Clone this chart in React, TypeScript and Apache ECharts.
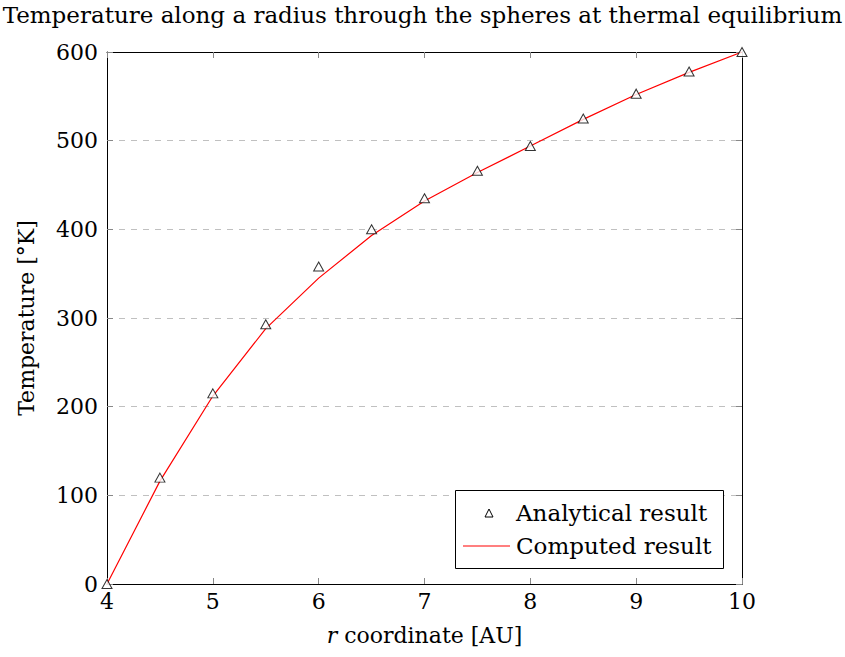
import React, { useEffect, useRef } from "react";
import * as echarts from "echarts";

const titleText = "Temperature along a radius through the spheres at thermal equilibrium";
const xTicks = [4, 5, 6, 7, 8, 9, 10];
const analyticalR = [4, 4.5, 5, 5.5, 6, 6.5, 7, 7.5, 8, 8.5, 9, 9.5, 10];
const analyticalT = [0, 120, 215, 293, 358, 400, 435, 466, 494, 525, 553, 578, 600];
const computedR = [4, 4.5, 5, 5.5, 6, 6.5, 7, 7.5, 8, 8.5, 9, 9.5, 10];
const computedT = [0, 116, 212, 288, 345, 393, 432, 464, 494, 524, 552, 577, 600];
const legendNames = ["Analytical result", "Computed result"];

const FONT = "DejaVu Serif";
const FS = 22;
const FS_TITLE = 23;
const FS_LEGEND = 23;

export default function App() {
  const ref = useRef<HTMLDivElement>(null);
  useEffect(() => {
    if (!ref.current) return;
    const chart = echarts.init(ref.current, null, { renderer: "svg" });
    const tickStyle = { show: true, inside: true, length: 6, lineStyle: { color: "#888", width: 1 } };
    chart.setOption({
      animation: false,
      backgroundColor: "#fff",
      textStyle: { fontFamily: FONT, color: "#000" },
      title: {
        text: titleText,
        left: "center",
        top: -2,
        textStyle: { fontFamily: FONT, fontSize: FS_TITLE, fontWeight: "normal", color: "#000" },
      },
      grid: { left: 107, right: 103, top: 52, bottom: 73, containLabel: false },
      graphic: [
        {
          type: "rect",
          shape: { x: 455.5, y: 490.5, width: 268, height: 78 },
          style: { fill: "#fff", stroke: "#000", lineWidth: 1 },
          z: 100,
        },
        {
          type: "polygon",
          shape: { points: [[489, 509], [485, 517], [493, 517]] },
          style: { fill: "#fff", stroke: "#000", lineWidth: 1 },
          z: 101,
        },
        {
          type: "line",
          shape: { x1: 463, y1: 546, x2: 510, y2: 546 },
          style: { stroke: "#ff0000", lineWidth: 1.2 },
          z: 101,
        },
        {
          type: "text",
          x: 516,
          y: 513,
          style: { text: legendNames[0], fontFamily: FONT, fontSize: FS_LEGEND, fill: "#000", textVerticalAlign: "middle", textAlign: "left" },
          z: 101,
        },
        {
          type: "text",
          x: 516,
          y: 546,
          style: { text: legendNames[1], fontFamily: FONT, fontSize: FS_LEGEND, fill: "#000", textVerticalAlign: "middle", textAlign: "left" },
          z: 101,
        },
      ],
      xAxis: [
        {
          type: "value",
          min: 4,
          max: 10,
          interval: 1,
          name: "{i|r} coordinate [AU]",
          nameLocation: "middle",
          nameGap: 40,
          nameTextStyle: {
            fontFamily: FONT,
            fontSize: FS,
            color: "#000",
            rich: { i: { fontFamily: FONT, fontSize: FS, fontStyle: "italic", color: "#000" } },
          },
          axisLine: { show: true, onZero: false, lineStyle: { color: "#000", width: 1 } },
          axisTick: tickStyle,
          axisLabel: { fontFamily: FONT, fontSize: FS, color: "#000", margin: 6 },
          splitLine: { show: false },
        },
        {
          type: "value",
          position: "top",
          min: 4,
          max: 10,
          interval: 1,
          axisLine: { show: true, onZero: false, lineStyle: { color: "#000", width: 1 } },
          axisTick: tickStyle,
          axisLabel: { show: false },
          splitLine: { show: false },
        },
      ],
      yAxis: [
        {
          type: "value",
          min: 0,
          max: 600,
          interval: 100,
          name: "Temperature [°K]",
          nameLocation: "middle",
          nameGap: 70,
          nameTextStyle: { fontFamily: FONT, fontSize: FS, color: "#000" },
          axisLine: { show: true, onZero: false, lineStyle: { color: "#000", width: 1 } },
          axisTick: tickStyle,
          axisLabel: { fontFamily: FONT, fontSize: FS, color: "#000", margin: 9 },
          splitLine: { show: true, lineStyle: { color: "#c0c0c0", type: [6, 6], width: 1 } },
        },
        {
          type: "value",
          position: "right",
          min: 0,
          max: 600,
          interval: 100,
          axisLine: { show: true, onZero: false, lineStyle: { color: "#000", width: 1 } },
          axisTick: tickStyle,
          axisLabel: { show: false },
          splitLine: { show: false },
        },
      ],
      series: [
        {
          name: legendNames[0],
          type: "scatter",
          symbol: "triangle",
          symbolSize: [10, 9],
          itemStyle: { color: "#fff", borderColor: "#000", borderWidth: 1 },
          data: analyticalR.map((r, i) => [r, analyticalT[i]]),
          z: 3,
        },
        {
          name: legendNames[1],
          type: "line",
          showSymbol: false,
          symbol: "none",
          lineStyle: { color: "#ff0000", width: 1.2 },
          itemStyle: { color: "#ff0000" },
          data: computedR.map((r, i) => [r, computedT[i]]),
          z: 2,
        },
      ],
    });
    return () => chart.dispose();
  }, []);
  return (
    <div
      ref={ref}
      style={{ position: "absolute", left: 0, top: 0, width: 845, height: 657 }}
    />
  );
}

export { xTicks };
